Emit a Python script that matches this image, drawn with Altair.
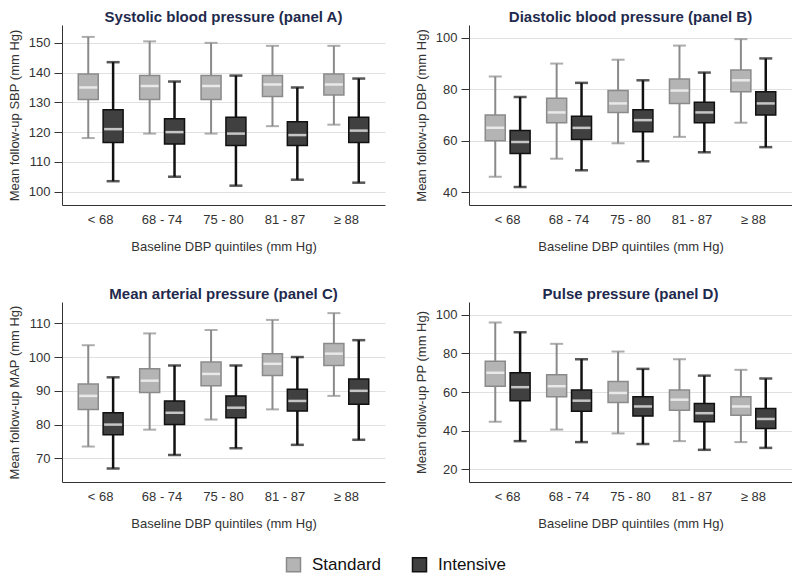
import altair as alt
import pandas as pd

quintiles = ["< 68", "68 - 74", "75 - 80", "81 - 87", "≥ 88"]
groups = ["Standard", "Intensive"]

# Each panel: per group, per quintile -> [low whisker, Q1, median, Q3, high whisker]
sbp_std = [[118, 131, 135, 139.5, 152], [119.5, 131, 135.5, 139, 150.5], [119.5, 131, 135.5, 139, 150],
           [122, 132, 136, 139, 149], [122.5, 132.5, 136, 139.5, 149]]
sbp_int = [[103.5, 116.5, 121, 127.5, 143.5], [105, 116, 120, 124.5, 137], [102, 115.5, 119.5, 125, 139],
           [104, 115.5, 119, 123.5, 135], [103, 116.5, 120.5, 125, 138]]
dbp_std = [[46, 60, 65, 70, 85], [53, 67, 71, 76.5, 90], [59, 71, 74.5, 79.5, 91.5],
           [61.5, 74.5, 79.5, 84, 97], [67, 79, 83.5, 87.5, 99.5]]
dbp_int = [[42, 55, 59.5, 64, 77], [48.5, 60.5, 65, 69.5, 82.5], [52, 63.5, 68, 72, 83.5],
           [55.5, 67, 71, 75, 86.5], [57.5, 70, 74.5, 79, 92]]
map_std = [[73.5, 84.5, 88.5, 92, 103.5], [78.5, 89.5, 93, 96.5, 107], [81.5, 91.5, 95, 98.5, 108],
           [84.5, 94.5, 98, 101, 111], [88.5, 97.5, 101, 104, 113]]
map_int = [[67, 77, 80, 83.5, 94], [71, 80, 83.5, 87, 97.5], [73, 82, 85, 88.5, 97.5],
           [74, 84, 87, 90.5, 100], [75.5, 86, 90, 93.5, 105]]
pp_std = [[44.5, 63, 70, 76, 96], [40.5, 57.5, 63, 69, 85], [38.5, 54.5, 59.5, 65.5, 81],
          [34.5, 50.5, 56, 61, 77], [34, 48, 52.5, 57.5, 71.5]]
pp_int = [[34.5, 55.5, 62.5, 70, 91], [34, 50, 55.5, 61, 77], [33, 47.5, 52.5, 57.5, 72],
          [30, 44.5, 49, 54, 68.5], [31, 41, 46, 51.5, 67]]

panel_titles = ["Systolic blood pressure (panel A)", "Diastolic blood pressure (panel B)",
                "Mean arterial pressure (panel C)", "Pulse pressure (panel D)"]
y_titles = ["Mean follow-up SBP (mm Hg)", "Mean follow-up DBP (mm Hg)",
            "Mean follow-up MAP (mm Hg)", "Mean follow-up PP (mm Hg)"]
y_domains = [[95.5, 156], [35, 105], [63, 116.3], [13.3, 106.7]]
y_ticks = [[100, 110, 120, 130, 140, 150], [40, 60, 80, 100], [70, 80, 90, 100, 110], [20, 40, 60, 80, 100]]
panel_data = [(sbp_std, sbp_int), (dbp_std, dbp_int), (map_std, map_int), (pp_std, pp_int)]
x_title = "Baseline DBP quintiles  (mm Hg)"

FILL = {"Standard": "#b4b4b4", "Intensive": "#404040"}
STROKE = {"Standard": "#8a8a8a", "Intensive": "#111111"}
TEXT = "#333333"


def make_df(std, inten):
    rows = []
    for g, vals in (("Standard", std), ("Intensive", inten)):
        for q, v in zip(quintiles, vals):
            rows.append(dict(quintile=q, group=g, low=v[0], q1=v[1], med=v[2], q3=v[3], high=v[4]))
    return pd.DataFrame(rows)


LEGEND = alt.Legend(title=None, orient="none", legendX=223, legendY=531,
                    direction="horizontal", symbolType="square", symbolSize=196,
                    symbolStrokeWidth=1.5, labelFontSize=17, labelColor="#111",
                    labelOffset=10, columnPadding=28, padding=0)


def panel(i):
    df = make_df(*panel_data[i])
    yscale = alt.Scale(domain=y_domains[i], nice=False, zero=False)
    yaxis = alt.Axis(values=y_ticks[i], title=y_titles[i], grid=True, gridColor="#e0e0e0",
                     tickSize=8, tickColor=TEXT, domainColor=TEXT, labelFontSize=13,
                     titleFontSize=13, titleFontWeight="normal", labelColor=TEXT, titleColor=TEXT,
                     labelPadding=4, titlePadding=7)
    xenc = alt.X("quintile:N", sort=quintiles,
                 scale=alt.Scale(paddingInner=0, paddingOuter=0.13),
                 axis=alt.Axis(title=x_title, labelAngle=0, ticks=False, domainColor=TEXT,
                               labelFontSize=13, titleFontSize=13, titleFontWeight="normal",
                               labelColor=TEXT, titleColor=TEXT, labelPadding=8, titlePadding=14))
    xoff = alt.XOffset("group:N", sort=groups, scale=alt.Scale(paddingInner=0, paddingOuter=0.235))

    def Y(field):
        return alt.Y(f"{field}:Q", scale=yscale, axis=yaxis)

    base = alt.Chart(df).encode(x=xenc, xOffset=xoff)
    layers = []
    for g in groups:
        sub = base.transform_filter(alt.datum.group == g)
        sw = 2 if g == "Standard" else 2.5
        layers.append(sub.mark_rule(color=STROKE[g], strokeWidth=sw).encode(y=Y("low"), y2="high"))
        layers.append(sub.mark_tick(color=STROKE[g], size=13, thickness=sw).encode(y=Y("low")))
        layers.append(sub.mark_tick(color=STROKE[g], size=13, thickness=sw).encode(y=Y("high")))
    box = base.mark_bar(width=20, strokeWidth=1.5).encode(
        y=Y("q1"), y2="q3",
        fill=alt.Fill("group:N", sort=groups,
                      scale=alt.Scale(domain=groups, range=[FILL[g] for g in groups]),
                      legend=LEGEND),
        stroke=alt.Stroke("group:N", sort=groups,
                          scale=alt.Scale(domain=groups, range=[STROKE[g] for g in groups]),
                          legend=LEGEND),
    )
    layers.append(box)
    layers.append(base.mark_tick(color="white", size=18, thickness=2.5).encode(y=Y("med")))
    return alt.layer(*layers).properties(
        width=323, height=180,
        title=alt.TitleParams(panel_titles[i], fontSize=15, fontWeight="bold", color="#1f2a4d",
                              offset=0, anchor="middle"),
    )


chart = alt.concat(panel(0), panel(1), panel(2), panel(3), columns=2, bounds="flush",
                   spacing={"row": 97, "column": 84}).properties(
    padding={"left": 0, "top": 2, "right": 0, "bottom": 0}
).configure(font="Liberation Sans").configure_view(stroke=None)

chart.save("out.html", embed_options={"renderer": "svg", "actions": False})
